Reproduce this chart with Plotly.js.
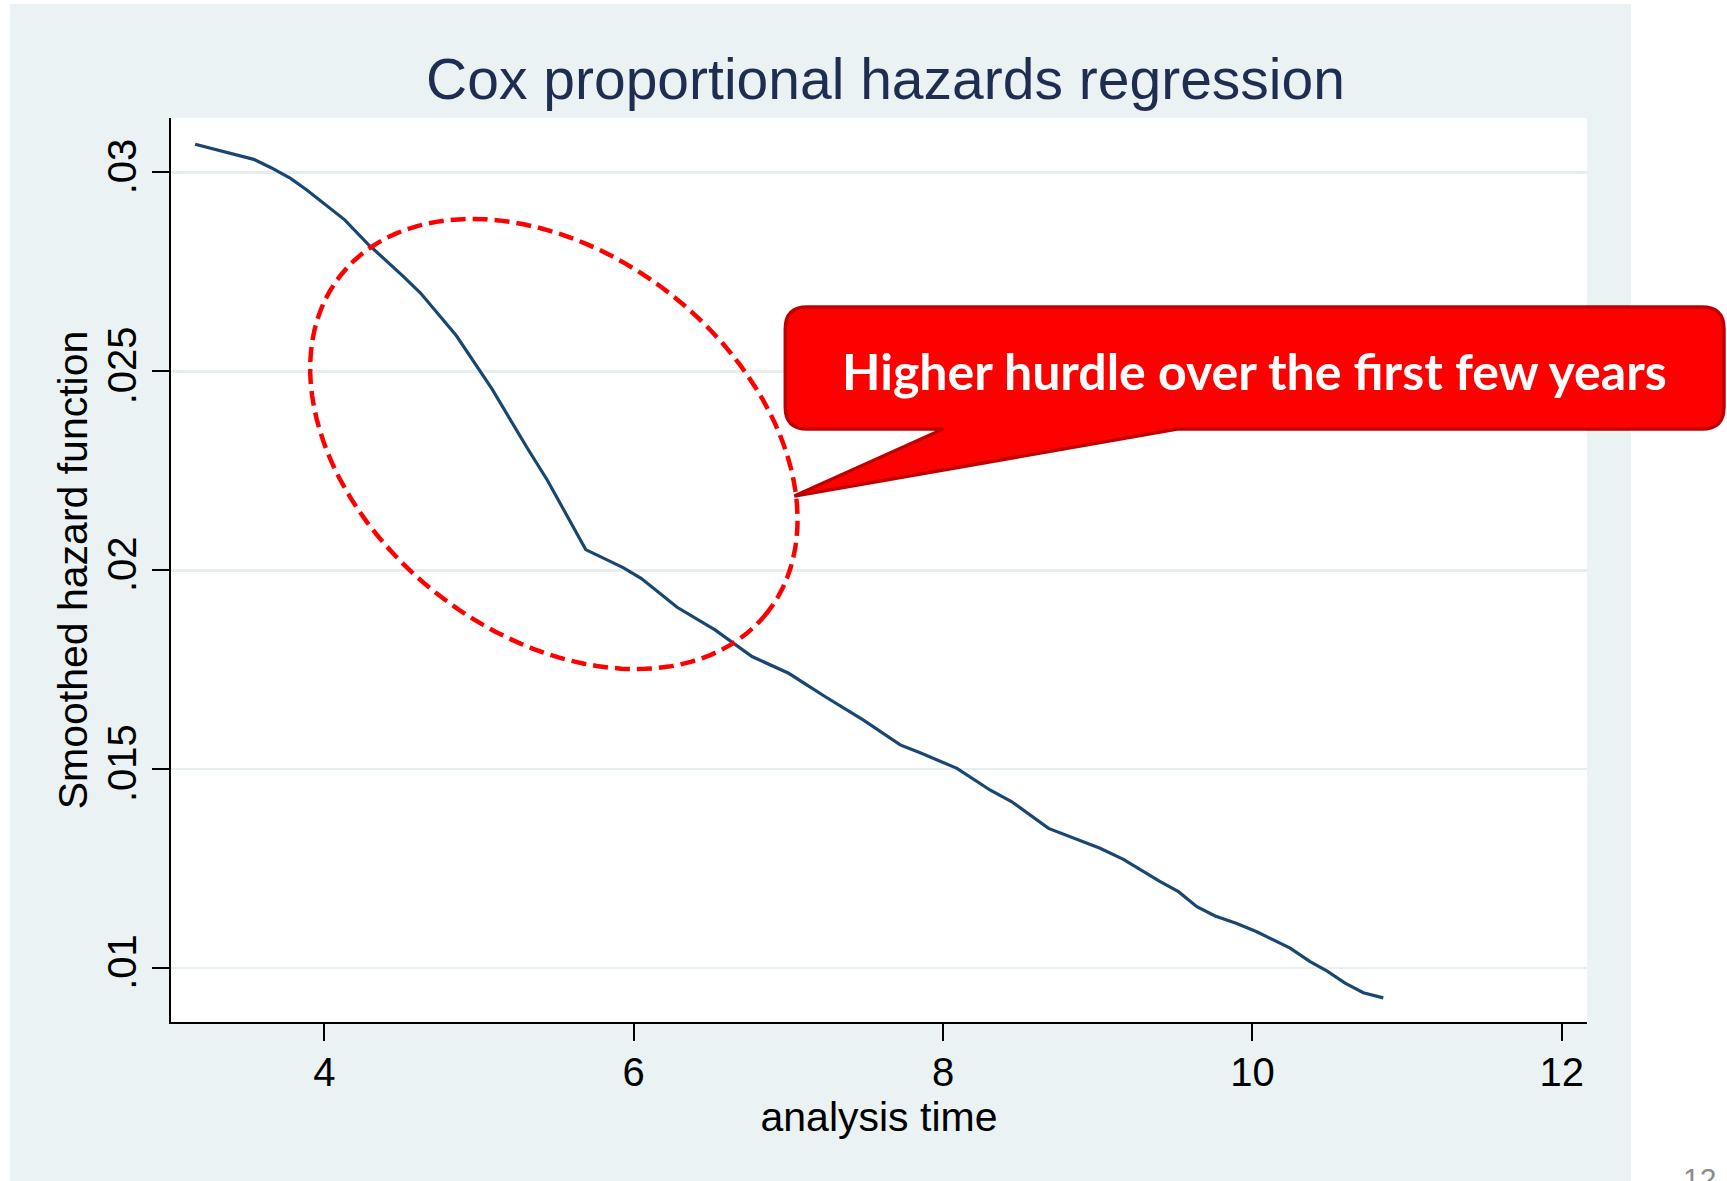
<!DOCTYPE html>
<html><head><meta charset="utf-8">
<script src="https://cdn.plot.ly/plotly-3.0.1.min.js"></script>
<style>
html,body{margin:0;padding:0;background:#ffffff;width:1727px;height:1181px;overflow:hidden;}
#bg{position:absolute;left:10px;top:4px;width:1621px;height:1177px;background:#eaf2f3;}
#chart{position:absolute;left:0;top:0;width:1727px;height:1181px;}
</style></head><body>
<div id="bg"></div><div id="chart"></div>
<script>
// ---- data ----
const analysisTime = [3.165,3.411,3.544,3.656,3.782,3.887,4.132,4.299,4.319,4.507,4.622,4.853,5.084,5.314,5.444,5.690,5.820,5.935,6.050,6.281,6.526,6.656,6.765,7.002,7.239,7.486,7.723,7.852,8.090,8.306,8.445,8.682,8.908,9.015,9.166,9.404,9.522,9.641,9.759,9.899,10.028,10.244,10.373,10.481,10.599,10.717,10.846];
const hazard = [0.03071,0.03047,0.03033,0.03012,0.02985,0.02956,0.02881,0.02813,0.02807,0.02740,0.02697,0.02590,0.02456,0.02306,0.02225,0.02052,0.02028,0.02006,0.01979,0.01907,0.01850,0.01814,0.01783,0.01741,0.01682,0.01623,0.01561,0.01541,0.01502,0.01447,0.01418,0.01351,0.01317,0.01301,0.01273,0.01217,0.01192,0.01154,0.01131,0.01112,0.01091,0.01050,0.01016,0.00993,0.00962,0.00938,0.00925];
const xTickVals = [4,6,8,10,12];
const xTickText = ['4','6','8','10','12'];
const yTickVals = [0.01,0.015,0.02,0.025,0.03];
const yTickText = ['.01','.015','.02','.025','.03'];
const chartTitle = 'Cox proportional hazards regression';
const xTitle = 'analysis time';
const yTitle = 'Smoothed hazard function';
const calloutText = 'Higher hurdle over the first few years';
const pageNumber = '12';

// ---- layout geometry (pixels) ----
const PL = 170.5, PT = 118, PW = 1416.5, PH = 904;
const px2x = p => (p - PL) / PW;
const px2y = p => (PT + PH - p) / PH;

// ellipse (pixel space): centre, semi-axes, rotation
const ell = {cx: 553.5, cy: 444, a: 272, b: 190, rot: 38.3};
function ellipsePath(e) {
  const th = e.rot * Math.PI / 180, n = 120;
  let d = '';
  for (let i = 0; i <= n; i++) {
    const t = 2 * Math.PI * i / n;
    const X = e.cx + e.a * Math.cos(t) * Math.cos(th) - e.b * Math.sin(t) * Math.sin(th);
    const Y = e.cy + e.a * Math.cos(t) * Math.sin(th) + e.b * Math.sin(t) * Math.cos(th);
    d += (i === 0 ? 'M' : 'L') + px2x(X).toFixed(5) + ',' + px2y(Y).toFixed(5);
  }
  return d + 'Z';
}
// callout box (pixel space)
const cb = {x0: 785, x1: 1724, y0: 307, y1: 429, r: 22, tailL: 943, tailR: 1177, tipX: 794, tipY: 496};
function calloutPath(c) {
  const P = (x, y) => px2x(x).toFixed(5) + ',' + px2y(y).toFixed(5);
  return 'M' + P(c.x0 + c.r, c.y0) +
    'L' + P(c.x1 - c.r, c.y0) +
    'Q' + P(c.x1, c.y0) + ' ' + P(c.x1, c.y0 + c.r) +
    'L' + P(c.x1, c.y1 - c.r) +
    'Q' + P(c.x1, c.y1) + ' ' + P(c.x1 - c.r, c.y1) +
    'L' + P(c.tailR, c.y1) +
    'L' + P(c.tipX, c.tipY) +
    'L' + P(c.tailL, c.y1) +
    'L' + P(c.x0 + c.r, c.y1) +
    'Q' + P(c.x0, c.y1) + ' ' + P(c.x0, c.y1 - c.r) +
    'L' + P(c.x0, c.y0 + c.r) +
    'Q' + P(c.x0, c.y0) + ' ' + P(c.x0 + c.r, c.y0) + 'Z';
}

const FONT = 'Liberation Sans, Arial, Helvetica, sans-serif';

const traces = [{
  x: analysisTime, y: hazard, type: 'scatter', mode: 'lines',
  line: {color: '#1a476f', width: 3.2}, hoverinfo: 'skip'
}];

const layout = {
  width: 1727, height: 1181,
  margin: {l: PL, r: 1727 - PL - PW, t: PT, b: 1181 - PT - PH, pad: 0},
  paper_bgcolor: 'rgba(0,0,0,0)', plot_bgcolor: '#ffffff',
  showlegend: false,
  font: {family: FONT, color: '#000'},
  title: {text: chartTitle, font: {family: FONT, size: 57, color: '#1f2d50'},
          xref: 'container', x: 885.5 / 1727, xanchor: 'center',
          yref: 'container', y: 1 - 79 / 1181, yanchor: 'middle'},
  xaxis: {range: [3.009, 12.163], tickmode: 'array', tickvals: xTickVals, ticktext: xTickText,
          ticks: 'outside', ticklen: 17, tickwidth: 2, tickcolor: '#000', ticklabelstandoff: -3,
          showline: true, linecolor: '#000', linewidth: 2, mirror: false,
          showgrid: false, zeroline: false, automargin: false,
          tickfont: {family: FONT, size: 40, color: '#000'},
          title: {text: xTitle, font: {family: FONT, size: 41, color: '#000'}, standoff: 0}},
  yaxis: {range: [0.008643, 0.03137], tickmode: 'array', tickvals: yTickVals, ticktext: yTickText,
          tickangle: -90,
          ticks: 'outside', ticklen: 17, tickwidth: 2, tickcolor: '#000',
          showline: true, linecolor: '#000', linewidth: 2,
          showgrid: true, gridcolor: '#e6eef0', gridwidth: 2.5, zeroline: false, automargin: false,
          tickfont: {family: FONT, size: 40, color: '#000'},
          title: {text: yTitle, font: {family: FONT, size: 41, color: '#000'}, standoff: 0}},
  shapes: [
    {type: 'path', xref: 'paper', yref: 'paper', path: ellipsePath(ell),
     line: {color: '#ff0000', width: 4.5, dash: '15px,7px'}, fillcolor: 'rgba(0,0,0,0)', layer: 'above'},
    {type: 'path', xref: 'paper', yref: 'paper', path: calloutPath(cb),
     line: {color: '#c00000', width: 3.5}, fillcolor: '#ff0000', layer: 'above'}
  ],
  annotations: [
    {text: '<b>' + calloutText + '</b>', xref: 'paper', yref: 'paper',
     x: px2x(1254.5), y: px2y(371), xanchor: 'center', yanchor: 'middle', showarrow: false,
     font: {family: 'Lato, Open Sans, sans-serif', size: 50, color: '#ffffff'}},
    {text: pageNumber, xref: 'paper', yref: 'paper', x: px2x(1700), y: px2y(1160),
     xanchor: 'center', yanchor: 'top', showarrow: false,
     font: {family: FONT, size: 30, color: '#8c8c8c'}}
  ]
};

Plotly.newPlot('chart', traces, layout, {staticPlot: true, displayModeBar: false});
</script>
</body></html>
